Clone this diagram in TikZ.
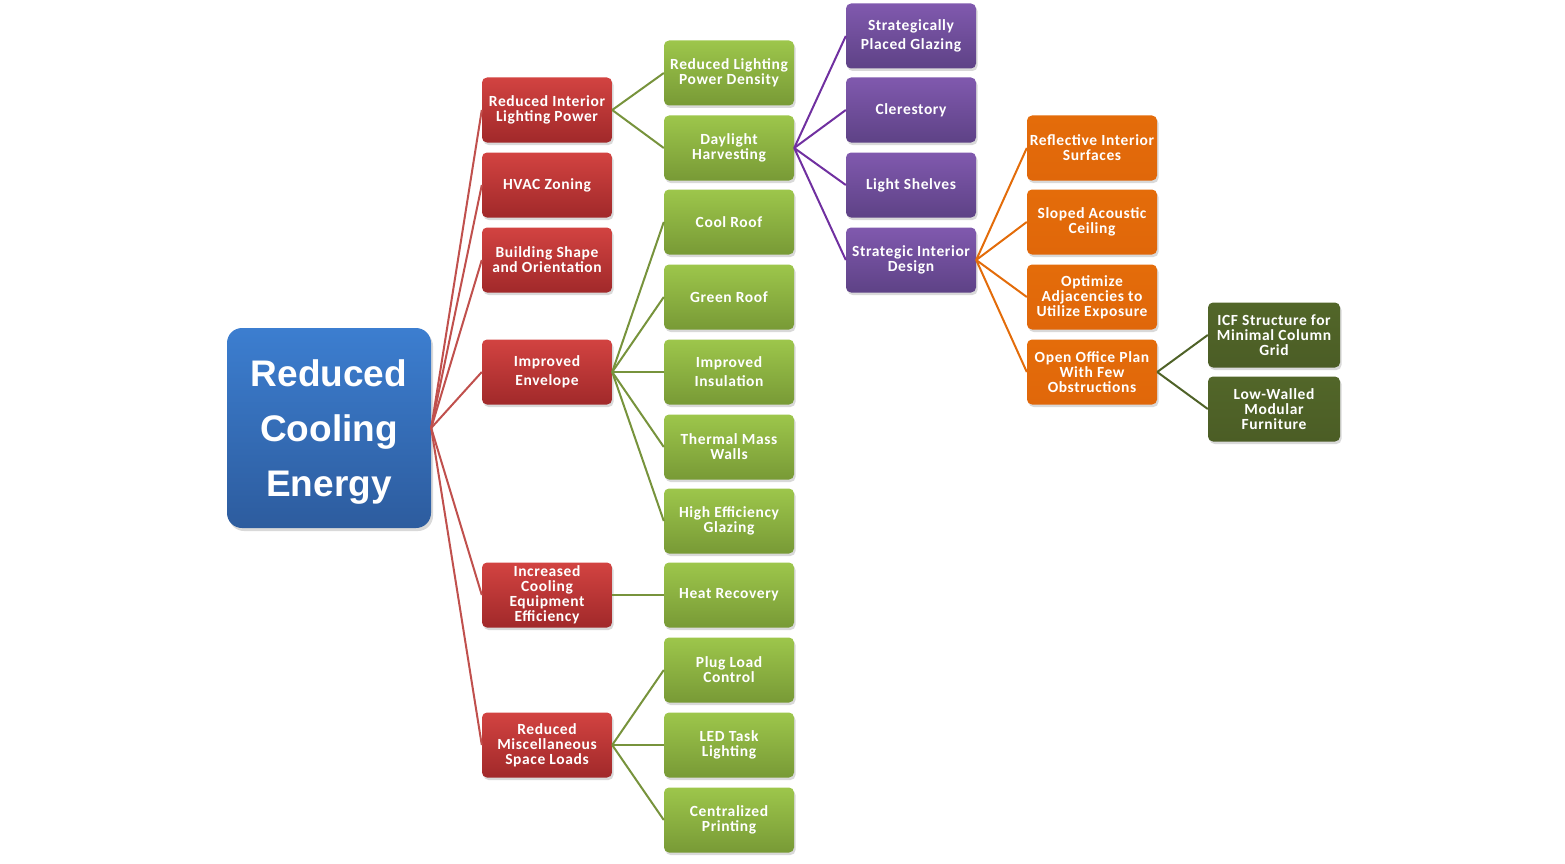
\documentclass[tikz,border=0pt]{standalone}
\usepackage{fontspec}
\usetikzlibrary{shadows}
\newfontfamily\bxf{Carlito}[LetterSpace=4]
\newfontfamily\rootf{Liberation Sans}
\definecolor{redA}{HTML}{D24341}
\definecolor{redB}{HTML}{A1292A}
\definecolor{grnA}{HTML}{9DC64B}
\definecolor{grnB}{HTML}{789A36}
\definecolor{purA}{HTML}{8059AE}
\definecolor{purB}{HTML}{5E4286}
\definecolor{orgA}{HTML}{E46C0A}
\definecolor{orgB}{HTML}{E0670A}
\definecolor{dgrA}{HTML}{526629}
\definecolor{dgrB}{HTML}{4B5D25}
\definecolor{bluA}{HTML}{3C7ED0}
\definecolor{bluB}{HTML}{2D5C9E}
\definecolor{redL}{HTML}{C0504D}
\definecolor{grnL}{HTML}{77933C}
\definecolor{purL}{HTML}{7030A0}
\definecolor{orgL}{HTML}{E36C0A}
\definecolor{dgrL}{HTML}{4F6228}
\tikzset{
 box/.style={rectangle, rounded corners=5pt, minimum width=130pt, minimum height=65pt,
   inner sep=0pt, align=center, text=white,
   font={\bxf\bfseries\fontsize{15.5}{15}\selectfont},
   drop shadow={shadow xshift=1.5pt, shadow yshift=-2.5pt, opacity=0.3}},
 redbox/.style={box, top color=redA, bottom color=redB},
 grnbox/.style={box, top color=grnA, bottom color=grnB},
 purbox/.style={box, top color=purA, bottom color=purB},
 orgbox/.style={box, top color=orgA, bottom color=orgB},
 dgrbox/.style={box, top color=dgrA, bottom color=dgrB, minimum width=132pt},
 rootbox/.style={rectangle, rounded corners=15pt, minimum width=204pt, minimum height=200pt,
   inner sep=0pt, align=center, text=white, top color=bluA, bottom color=bluB,
   font={\rootf\bfseries\fontsize{37}{55}\selectfont},
   drop shadow={shadow xshift=2pt, shadow yshift=-3pt, opacity=0.3}},
 conn/.style={line width=2pt},
}
\begin{document}
\begin{tikzpicture}[x=1pt,y=-1pt]
\useasboundingbox (0,0) rectangle (1565,864);
% root
\node[rootbox] (root) at (329,428) {\rule{0pt}{34pt}Reduced\\Cooling\\Energy};
% red
\node[redbox] (r1) at (547,110) {Reduced Interior\\Lighting Power};
\node[redbox] (r2) at (547,185) {HVAC Zoning};
\node[redbox] (r3) at (547,260) {Building Shape\\and Orientation};
\node[redbox] (r4) at (547,372) {Improved\\[4pt]Envelope};
\node[redbox] (r5) at (547,595) {Increased\\Cooling\\Equipment\\Efficiency};
\node[redbox] (r6) at (547,745) {Reduced\\Miscellaneous\\Space Loads};
% green
\node[grnbox] (g1) at (729,73) {Reduced Lighting\\Power Density};
\node[grnbox] (g2) at (729,148) {Daylight\\Harvesting};
\node[grnbox] (g3) at (729,222) {Cool Roof};
\node[grnbox] (g4) at (729,297) {Green Roof};
\node[grnbox] (g5) at (729,372) {Improved\\[4pt]Insulation};
\node[grnbox] (g6) at (729,447) {Thermal Mass\\Walls};
\node[grnbox] (g7) at (729,521) {High Efficiency\\Glazing};
\node[grnbox] (g8) at (729,595) {Heat Recovery};
\node[grnbox] (g9) at (729,670) {Plug Load\\Control};
\node[grnbox] (g10) at (729,745) {LED Task\\Lighting};
\node[grnbox] (g11) at (729,820) {Centralized\\Printing};
% purple
\node[purbox] (p1) at (911,36) {Strategically\\[4pt]Placed Glazing};
\node[purbox] (p2) at (911,110) {Clerestory};
\node[purbox] (p3) at (911,185) {Light Shelves};
\node[purbox] (p4) at (911,260) {Strategic Interior\\Design};
% orange
\node[orgbox] (o1) at (1092,148) {Reflective Interior\\Surfaces};
\node[orgbox] (o2) at (1092,222) {Sloped Acoustic\\Ceiling};
\node[orgbox] (o3) at (1092,297) {Optimize\\Adjacencies to\\Utilize Exposure};
\node[orgbox] (o4) at (1092,372) {Open Office Plan\\With Few\\Obstructions};
% dark green
\node[dgrbox] (d1) at (1274,335) {ICF Structure for\\Minimal Column\\Grid};
\node[dgrbox] (d2) at (1274,409) {Low-Walled\\Modular\\Furniture};
% connectors
\foreach \t in {r1,r2,r3,r4,r5,r6}
  \draw[conn, redL] (root.east) -- (\t.west);
\foreach \t in {g1,g2}
  \draw[conn, grnL] (r1.east) -- (\t.west);
\foreach \t in {g3,g4,g5,g6,g7}
  \draw[conn, grnL] (r4.east) -- (\t.west);
\draw[conn, grnL] (r5.east) -- (g8.west);
\foreach \t in {g9,g10,g11}
  \draw[conn, grnL] (r6.east) -- (\t.west);
\foreach \t in {p1,p2,p3,p4}
  \draw[conn, purL] (g2.east) -- (\t.west);
\foreach \t in {o1,o2,o3,o4}
  \draw[conn, orgL] (p4.east) -- (\t.west);
\foreach \t in {d1,d2}
  \draw[conn, dgrL] (o4.east) -- (\t.west);
\end{tikzpicture}
\end{document}
